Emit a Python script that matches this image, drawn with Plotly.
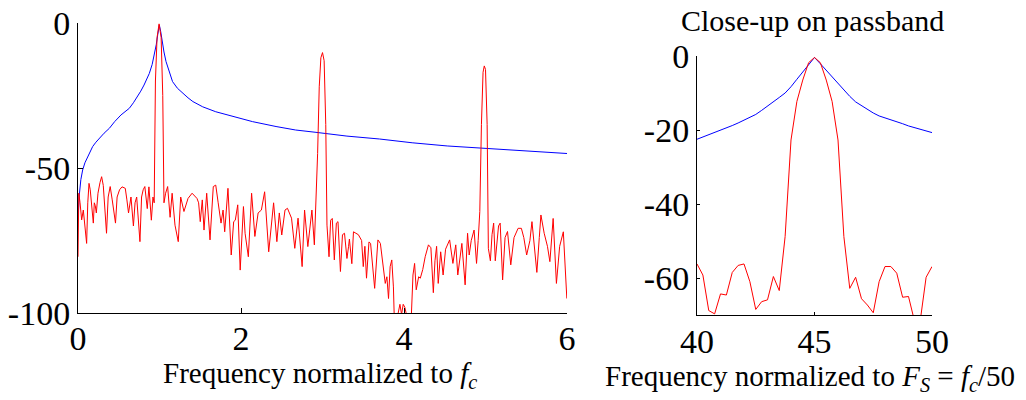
import plotly.graph_objects as go

# ---------------- data ----------------
# Left panel: blue (wideband response) and red (filtered response)
blue_f = [0, 0.016, 0.035, 0.057, 0.085, 0.119, 0.15, 0.18, 0.22, 0.26, 0.32, 0.385, 0.45,
          0.528, 0.58, 0.63, 0.68, 0.73, 0.77, 0.81, 0.845, 0.875, 0.91, 0.937, 0.96, 0.978,
          0.998, 1.015, 1.03, 1.055, 1.08, 1.12, 1.16, 1.22, 1.284, 1.35, 1.41, 1.53, 1.69,
          1.9, 2.14, 2.43, 2.67, 2.92, 3.3, 3.7, 4.1, 4.53, 5.09, 5.5, 6.0]
blue_db = [-68, -59.3, -54, -50.7, -48.2, -46.1, -44.2, -42.6, -41.1, -39.8, -38, -36.3, -34,
           -31.7, -30.6, -29.4, -27.5, -25.4, -23.5, -21.4, -19.5, -17.4, -14.3, -11.0, -7.5, -4.1,
           -0.7, -3, -5.9, -10, -13.3, -17.2, -20.2, -22.5, -24.3, -25.8, -27.1, -28.9, -30.6,
           -32.3, -34, -35.7, -36.9, -37.7, -39, -40, -41.3, -42.4, -43.4, -44.2, -45]

red_f = [0.000, 0.010, 0.025, 0.045, 0.065, 0.085, 0.106, 0.120, 0.135, 0.150, 0.165, 0.188,
         0.200, 0.212, 0.225, 0.245, 0.270, 0.290, 0.310, 0.330, 0.350, 0.370, 0.395, 0.420,
         0.440, 0.460, 0.480, 0.510, 0.540, 0.580, 0.600, 0.620, 0.650, 0.680, 0.700, 0.720,
         0.760, 0.780, 0.800, 0.820, 0.850, 0.870, 0.900, 0.920, 0.935, 0.950, 0.970, 0.995,
         1.020, 1.040, 1.055, 1.075, 1.100, 1.130, 1.155, 1.190, 1.230, 1.260, 1.300, 1.350,
         1.400, 1.436, 1.460, 1.480, 1.500, 1.525, 1.546, 1.579, 1.620, 1.660, 1.690, 1.720,
         1.755, 1.780, 1.800, 1.840, 1.880, 1.910, 1.930, 1.960, 1.990, 2.030, 2.050, 2.090,
         2.130, 2.170, 2.210, 2.250, 2.290, 2.340, 2.400, 2.440, 2.470, 2.500, 2.540, 2.570,
         2.620, 2.660, 2.700, 2.750, 2.780, 2.820, 2.870, 2.900, 2.920, 2.940, 2.960, 2.980,
         3.000, 3.020, 3.040, 3.055, 3.080, 3.100, 3.120, 3.145, 3.170, 3.190, 3.220, 3.245,
         3.270, 3.300, 3.320, 3.330, 3.360, 3.380, 3.410, 3.440, 3.480, 3.500, 3.520, 3.540,
         3.570, 3.590, 3.640, 3.680, 3.710, 3.740, 3.770, 3.790, 3.810, 3.830, 3.850, 3.870,
         3.880, 3.900, 3.920, 3.950, 3.970, 3.990, 4.010, 4.030, 4.050, 4.090, 4.110, 4.130,
         4.150, 4.180, 4.200, 4.230, 4.260, 4.300, 4.330, 4.360, 4.380, 4.400, 4.420, 4.450,
         4.480, 4.510, 4.560, 4.600, 4.635, 4.660, 4.710, 4.750, 4.780, 4.800, 4.825, 4.860,
         4.890, 4.910, 4.930, 4.950, 4.970, 4.985, 5.000, 5.020, 5.035, 5.060, 5.080, 5.100,
         5.120, 5.160, 5.180, 5.210, 5.240, 5.270, 5.310, 5.350, 5.400, 5.440, 5.470, 5.505,
         5.545, 5.570, 5.630, 5.660, 5.680, 5.720, 5.760, 5.790, 5.830, 5.870, 5.910, 5.955,
         5.998]
red_db = [-80.6, -58.7, -62, -67.9, -64.5, -70, -76, -62, -55.3, -57.5, -63, -69,
          -62, -63, -65.5, -58.7, -55, -53, -56, -65, -72.5, -60, -56.4, -61,
          -65.5, -69, -60, -57.5, -56.5, -57, -61, -65.5, -60, -70, -62, -60,
          -75.4, -60, -57.5, -56.4, -64, -56.5, -68, -60, -62, -20, -5, -0.3,
          -5, -25, -62, -58.7, -56.4, -67, -58.7, -69.7, -75.4, -60, -65, -60.5,
          -58.7, -60, -60.5, -62, -68.5, -61, -71.4, -58.7, -74.8, -56.4, -55.9, -62,
          -69, -64.5, -72, -57, -80, -68.5, -68, -62.7, -85.2, -63.3, -72.5, -80.6,
          -58.7, -73.6, -65.5, -64.5, -58.2, -78.9, -62, -75.4, -65.5, -73.1, -64.5, -63.9,
          -67.3, -77.7, -67.3, -84, -64.5, -77.1, -64.5, -76.5, -62, -45, -22, -12,
          -10.2, -13, -35, -69.7, -80.6, -68, -67.4, -81.7, -69, -68.5, -85.7, -73,
          -72.5, -81.2, -77, -74.5, -83, -72, -72.5, -73, -75, -84, -77, -88,
          -75.5, -76, -91.5, -74.8, -76, -82.9, -89.8, -87.5, -95, -84, -81.7, -91,
          -101, -104, -101, -97, -100.5, -97, -98, -101, -103, -101, -86.9, -82.9,
          -92, -87.5, -88, -85, -80.6, -76.5, -77.5, -93, -82, -77, -89.8, -78.9,
          -86.9, -78, -74.8, -82.9, -76.5, -86.9, -76, -90.3, -72.5, -80, -75, -71.4,
          -82.9, -75, -65, -35, -17, -14.8, -16, -35, -77.7, -82, -73, -69,
          -82, -70, -69, -88.6, -74, -71.9, -83.4, -74, -70.8, -70.8, -74, -80,
          -75, -68.5, -86, -74, -66.2, -72.5, -77, -82.3, -67.4, -89.8, -77, -72,
          -95]

# Right panel: close-up on passband
zoom_f = [40 + 0.25 * i for i in range(41)]
zoom_blue_db = [-22.5, -21.9, -21.2, -20.7, -20.2, -19.5, -18.8, -18.1, -17.3, -16.6, -15.8,
                -14.7, -13.6, -12.3, -11.2, -10.0, -8.3, -6.3, -4.3, -2.3, -0.4,
                -2.1, -3.9, -5.7, -7.5, -9.4, -10.9, -12.4, -13.4, -14.5, -15.4,
                -16.2, -16.7, -17.1, -17.7, -18.3, -18.9, -19.3, -19.8, -20.3, -20.7]
zoom_red_db = [-56.2, -59.2, -68.8, -69.7, -64.3, -64.6, -58.5, -56.6, -56.2, -61.0, -68.5,
               -66.4, -65.9, -59.6, -63.4, -48.8, -22.7, -12.3, -6.5, -1.8, -0.4,
               -1.8, -6.5, -12.3, -22.7, -48.8, -62.8, -59.8, -65.6, -67.3, -69.4,
               -61.0, -56.9, -56.9, -58.7, -65.2, -65.0, -71.5, -71.5, -59.8, -56.9]

left_xticks = [0, 2, 4, 6]
left_yticks = [0, -50, -100]
right_xticks = [40, 45, 50]
right_yticks = [0, -20, -40, -60]

title_right = "Close-up on passband"
xlabel_left = "Frequency normalized to <i>f</i><sub><i>c</i></sub>"
xlabel_right = "Frequency normalized to <i>F</i><sub><i>S</i></sub> = <i>f</i><sub><i>c</i></sub>/50"

# ---------------- figure ----------------
W, H = 1026, 400
FONT = "Liberation Serif"

fig = go.Figure()
fig.add_trace(go.Scatter(x=blue_f, y=blue_db, mode="lines", line=dict(color="#0000FF", width=1),
                         xaxis="x", yaxis="y", showlegend=False))
fig.add_trace(go.Scatter(x=red_f, y=red_db, mode="lines", line=dict(color="#FF0000", width=1),
                         xaxis="x", yaxis="y", showlegend=False))
fig.add_trace(go.Scatter(x=zoom_f, y=zoom_blue_db, mode="lines", line=dict(color="#0000FF", width=1),
                         xaxis="x2", yaxis="y2", showlegend=False))
fig.add_trace(go.Scatter(x=zoom_f, y=zoom_red_db, mode="lines", line=dict(color="#FF0000", width=1),
                         xaxis="x2", yaxis="y2", showlegend=False))

def px_x(p):
    return p / W

def px_y(p):
    return 1 - p / H

axis_common = dict(showline=True, linecolor="black", linewidth=1, mirror=False,
                   showgrid=False, zeroline=False, ticks="inside", tickcolor="black",
                   automargin=False,
                   tickfont=dict(family=FONT, size=34, color="black"))

fig.update_layout(
    width=W, height=H,
    margin=dict(l=0, r=0, t=0, b=0, autoexpand=False),
    font=dict(family=FONT, color="black"),
    paper_bgcolor="white", plot_bgcolor="white",
    xaxis=dict(domain=[px_x(78), px_x(567)], range=[0, 6], anchor="y",
               tickvals=left_xticks, ticktext=[str(v) for v in left_xticks], ticklen=5,
               ticklabelstandoff=-5, **axis_common),
    yaxis=dict(domain=[px_y(313), px_y(23)], range=[-100, 0], anchor="x",
               tickvals=left_yticks, ticktext=[str(v) for v in left_yticks], ticklen=5,
               **axis_common),
    xaxis2=dict(domain=[px_x(697), px_x(932)], range=[40, 50], anchor="y2",
                tickvals=right_xticks, ticktext=[str(v) for v in right_xticks], ticklen=3,
                ticklabelstandoff=-4, **axis_common),
    yaxis2=dict(domain=[px_y(315), px_y(56)], range=[-70, 0], anchor="x2",
                tickvals=right_yticks, ticktext=[str(v) for v in right_yticks], ticklen=3,
                **axis_common),
    annotations=[
        dict(text=title_right, x=px_x(812), y=px_y(21), xref="paper", yref="paper",
             xanchor="center", yanchor="middle", showarrow=False,
             font=dict(family=FONT, size=30, color="black")),
        dict(text=xlabel_left, x=px_x(320), y=px_y(375), xref="paper", yref="paper",
             xanchor="center", yanchor="middle", showarrow=False,
             font=dict(family=FONT, size=29, color="black")),
        dict(text=xlabel_right, x=px_x(810), y=px_y(378), xref="paper", yref="paper",
             xanchor="center", yanchor="middle", showarrow=False,
             font=dict(family=FONT, size=29, color="black")),
    ],
)

fig.write_html("out.html")
